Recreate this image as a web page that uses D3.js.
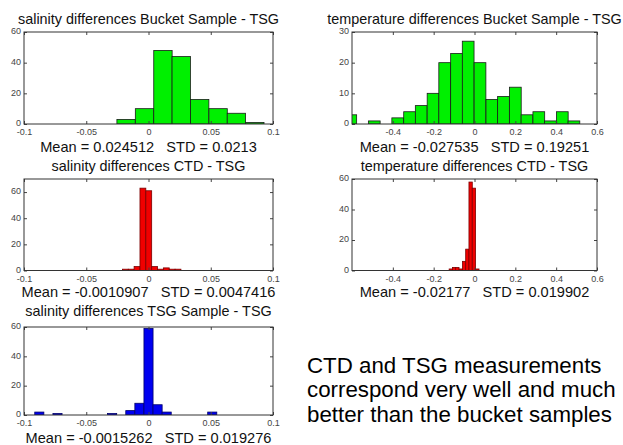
<!DOCTYPE html>
<html>
<head>
<meta charset="utf-8">
<script src="https://cdn.jsdelivr.net/npm/d3@7"></script>
<style>
  body { margin: 0; background: #fff; }
  svg { display: block; font-family: "Liberation Sans", Arial, Helvetica, sans-serif; }
</style>
</head>
<body>
<svg id="fig" width="623" height="445"></svg>
<script>
// ---- histogram data: bin centres, counts, bin width ----
const salBucketCenters = [-0.0180, -0.0032, 0.0116, 0.0263, 0.0411, 0.0559, 0.0706, 0.0854];
const salBucketCounts  = [3, 10, 48, 44, 16, 10, 7, 1];
const salBucketWidth   = 0.01476;

const tempBucketCenters = [-0.606, -0.548, -0.491, -0.433, -0.376, -0.318, -0.261, -0.203, -0.146, -0.088,
                           -0.031, 0.027, 0.085, 0.142, 0.200, 0.257, 0.315, 0.372, 0.430, 0.487];
const tempBucketCounts  = [3, 0, 1, 0, 2, 4, 6, 10, 20, 23, 27, 20, 8, 9, 12, 3, 4, 1, 4, 1];
const tempBucketWidth   = 0.0575;

const salCtdCenters = [-0.0186, -0.0139, -0.0092, -0.0045, 0.0002, 0.0049, 0.0096, 0.0143, 0.0190, 0.0237];
const salCtdCounts  = [1, 1, 3, 63, 61, 3, 1, 2, 1, 1];
const salCtdWidth   = 0.0047;

const tempCtdCenters = [-0.132, -0.116, -0.100, -0.084, -0.067, -0.051, -0.035, -0.019, -0.003, 0.014];
const tempCtdCounts  = [0, 1, 2, 2, 1, 6, 14, 58, 54, 1];
const tempCtdWidth   = 0.0163;

const salTsgCenters = [-0.0877, -0.0804, -0.0731, -0.0658, -0.0585, -0.0512, -0.0439, -0.0365, -0.0292, -0.0219,
                       -0.0146, -0.0073, 0.0000, 0.0073, 0.0146, 0.0219, 0.0292, 0.0365, 0.0438, 0.0512];
const salTsgCounts  = [2, 0, 1, 0, 0, 0, 0, 0, 1, 0, 3, 8, 59, 7, 2, 0, 0, 0, 0, 2];
const salTsgWidth   = 0.00731;

// ---- axis settings ----
const salXDomain  = [-0.1, 0.1];
const salXTicks   = [-0.1, -0.05, 0, 0.05, 0.1];
const salXLabels  = ["-0.1", "-0.05", "0", "0.05", "0.1"];
const tempXDomain = [-0.6, 0.6];
const tempXTicks  = [-0.4, -0.2, 0, 0.2, 0.4, 0.6];
const tempXLabels = ["-0.4", "-0.2", "0", "0.2", "0.4", "0.6"];

// ---- titles and statistics ----
const titles = [
  "salinity differences Bucket Sample - TSG",
  "temperature differences Bucket Sample - TSG",
  "salinity differences CTD - TSG",
  "temperature differences CTD - TSG",
  "salinity differences TSG Sample - TSG"
];
const means = ["0.024512", "-0.027535", "-0.0010907", "-0.02177", "-0.0015262"];
const stds  = ["0.0213", "0.19251", "0.0047416", "0.019902", "0.019276"];

const noteLines = [
  "CTD and TSG measurements",
  "correspond very well and much",
  "better than the bucket samples"
];

const svg = d3.select("#fig");

const panels = [
  { centers: salBucketCenters, counts: salBucketCounts, width: salBucketWidth, color: "#00f000", edge: "#1a1a1a",
    xDomain: salXDomain, xTicks: salXTicks, xLabels: salXLabels, yDomain: [0, 60], yTicks: [0, 20, 40, 60],
    box: [24, 273, 32, 124], titleY: 24, statY: 152 },
  { centers: tempBucketCenters, counts: tempBucketCounts, width: tempBucketWidth, color: "#00f000", edge: "#1a1a1a",
    xDomain: tempXDomain, xTicks: tempXTicks, xLabels: tempXLabels, yDomain: [0, 30], yTicks: [0, 10, 20, 30],
    box: [352, 597, 32, 124], titleY: 24, statY: 152 },
  { centers: salCtdCenters, counts: salCtdCounts, width: salCtdWidth, color: "#f00000", edge: "#7a0000",
    xDomain: salXDomain, xTicks: salXTicks, xLabels: salXLabels, yDomain: [0, 70], yTicks: [0, 20, 40, 60],
    box: [24, 273, 179, 270.5], titleY: 171, statY: 297 },
  { centers: tempCtdCenters, counts: tempCtdCounts, width: tempCtdWidth, color: "#f00000", edge: "#7a0000",
    xDomain: tempXDomain, xTicks: tempXTicks, xLabels: tempXLabels, yDomain: [0, 60], yTicks: [0, 20, 40, 60],
    box: [352, 597, 179, 270.5], titleY: 171, statY: 297 },
  { centers: salTsgCenters, counts: salTsgCounts, width: salTsgWidth, color: "#0000f0", edge: "#00006a",
    xDomain: salXDomain, xTicks: salXTicks, xLabels: salXLabels, yDomain: [0, 60], yTicks: [0, 20, 40, 60],
    box: [24, 273, 327, 415], titleY: 316, statY: 443 }
];

panels.forEach((p, i) => {
  const [l, r, t, b] = p.box;
  const x = d3.scaleLinear().domain(p.xDomain).range([l, r]);
  const y = d3.scaleLinear().domain(p.yDomain).range([b, t]);
  const g = svg.append("g");

  const clipId = "plot-clip-" + i;
  svg.append("clipPath").attr("id", clipId)
    .append("rect").attr("x", l).attr("y", t).attr("width", r - l).attr("height", b - t);

  // bars
  const bins = d3.zip(p.centers, p.counts).filter(d => d[1] > 0);
  g.append("g").attr("clip-path", `url(#${clipId})`)
    .selectAll("rect").data(bins).join("rect")
    .attr("x", d => x(d[0] - p.width / 2))
    .attr("width", d => x(d[0] + p.width / 2) - x(d[0] - p.width / 2))
    .attr("y", d => y(d[1]))
    .attr("height", d => y(0) - y(d[1]))
    .attr("fill", p.color)
    .attr("stroke", p.edge)
    .attr("stroke-width", 0.8);

  // axes with inward ticks
  const fmtX = v => p.xLabels[p.xTicks.indexOf(v)];
  const bottom = g.append("g").attr("transform", `translate(0,${b})`)
    .call(d3.axisBottom(x).tickValues(p.xTicks).tickFormat(fmtX).tickSizeInner(-3).tickSizeOuter(0).tickPadding(5));
  const left = g.append("g").attr("transform", `translate(${l},0)`)
    .call(d3.axisLeft(y).tickValues(p.yTicks).tickSizeInner(-3).tickSizeOuter(0).tickPadding(3));
  const top = g.append("g").attr("transform", `translate(0,${t})`)
    .call(d3.axisTop(x).tickValues(p.xTicks).tickFormat("").tickSizeInner(-3).tickSizeOuter(0));
  const right = g.append("g").attr("transform", `translate(${r},0)`)
    .call(d3.axisRight(y).tickValues(p.yTicks).tickFormat("").tickSizeInner(-3).tickSizeOuter(0));
  [bottom, left, top, right].forEach(a => {
    a.select(".domain").remove();
    a.selectAll(".tick line").attr("stroke", "#444");
    a.selectAll("text").attr("font-size", 9).attr("fill", "#444")
      .attr("font-family", "\"Liberation Sans\", Arial, sans-serif");
  });
  left.selectAll("text").attr("dy", "0.2em");

  // axes box
  g.append("rect").attr("x", l).attr("y", t).attr("width", r - l).attr("height", b - t)
    .attr("fill", "none").attr("stroke", "#333").attr("stroke-width", 1);

  // title
  const cx = (l + r) / 2;
  g.append("text").attr("x", cx).attr("y", p.titleY).attr("text-anchor", "middle")
    .attr("font-size", 14.4).attr("fill", "#111").text(titles[i]);

  // statistics line
  g.append("text").attr("x", cx).attr("y", p.statY).attr("text-anchor", "middle")
    .attr("font-size", 14.6).attr("fill", "#111")
    .text(`Mean = ${means[i]}\u00a0\u00a0\u00a0STD = ${stds[i]}`);
});

// note text
svg.append("g").selectAll("text").data(noteLines).join("text")
  .attr("x", 307)
  .attr("y", (d, i) => 373 + i * 24.3)
  .attr("font-size", 22.3)
  .attr("fill", "#000")
  .text(d => d);
</script>
</body>
</html>
